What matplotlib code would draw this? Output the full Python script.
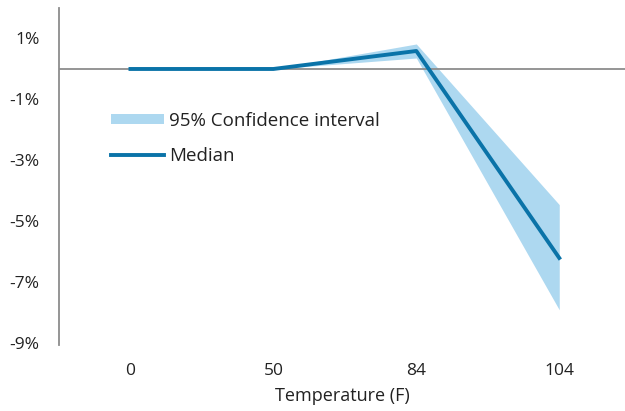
import matplotlib
matplotlib.use("Agg")
import matplotlib.pyplot as plt
import numpy as np

categories = ["0", "50", "84", "104"]
median = [0.0, 0.0, 0.59, -6.2]
ci_low = [0.0, 0.0, 0.36, -7.9]
ci_high = [0.0, 0.0, 0.82, -4.45]
yticks = [1, -1, -3, -5, -7, -9]

plt.rcParams['font.family'] = ['Open Sans', 'DejaVu Sans']

fig = plt.figure(figsize=(6.25, 4.11), dpi=100)
ax = fig.add_axes([0.0944, 0.161, 0.9056, 0.8195])

x = np.arange(len(categories))
ax.fill_between(x, ci_low, ci_high, color="#ADD8F0", linewidth=0, label="95% Confidence interval")
ax.axhline(0, color="#8c8c8c", linewidth=1.3, zorder=1)
ax.plot(x, median, color="#0A73A8", linewidth=2.8, label="Median", zorder=3)

ax.set_xlim(-0.5, 3.46)
ax.set_ylim(-9.05, 2.0)
ax.set_xticks(x)
ax.set_xticklabels(categories)
ax.set_yticks(yticks)
ax.set_yticklabels([f"{v}%" for v in yticks])
ax.tick_params(axis="both", length=0, labelsize=12.5, colors="#222222")
ax.tick_params(axis="x", pad=13)
ax.tick_params(axis="y", pad=14)

for s in ["top", "right", "bottom"]:
    ax.spines[s].set_visible(False)
ax.spines["left"].set_color("#8c8c8c")
ax.spines["left"].set_linewidth(1.3)

ax.set_xlabel("Temperature (F)", fontsize=13, color="#222222", labelpad=6)

leg = ax.legend(loc="upper left", bbox_to_anchor=(0.076, 0.72), frameon=False,
                fontsize=13.5, handlelength=2.8, handleheight=0.5, handletextpad=0.27,
                labelspacing=0.9, borderpad=0)
for t in leg.get_texts():
    t.set_color("#222222")

fig.savefig("out.png", dpi=100)
